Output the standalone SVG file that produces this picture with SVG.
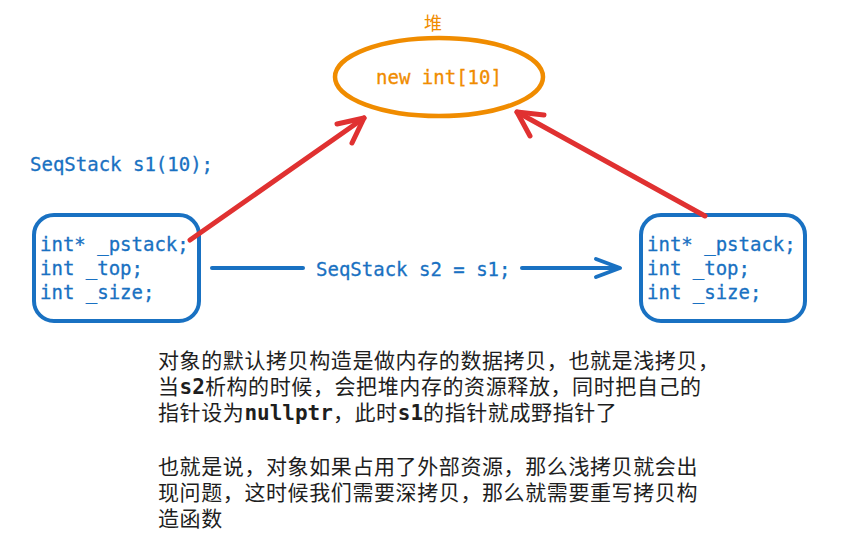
<svg xmlns="http://www.w3.org/2000/svg" width="853" height="536" viewBox="0 0 853 536">
<style>
.code{font-family:"DejaVu Sans Mono","Liberation Mono",monospace;font-size:19px;fill:#1971c2;stroke:#1971c2;stroke-width:0.3}
.box{fill:none;stroke:#1971c2;stroke-width:4}
.red{stroke:#e03131;stroke-width:5;fill:none;stroke-linecap:round;stroke-linejoin:round}
.blue{stroke:#1971c2;stroke-width:4;fill:none;stroke-linecap:round;stroke-linejoin:round}
.body{font-family:"Noto Sans CJK SC","Noto Sans",sans-serif;font-size:21px;fill:#1e1e1e;letter-spacing:0.6px}
.mono{font-family:"DejaVu Sans Mono","Liberation Mono",monospace;font-weight:bold;letter-spacing:0}
</style>
<rect width="853" height="536" fill="#ffffff"/>
<g id="heap">
<text x="433" y="30" text-anchor="middle" font-family="Noto Sans CJK SC,sans-serif" font-size="18" fill="#f08c00">堆</text>
<ellipse cx="439" cy="77" rx="104" ry="39" fill="none" stroke="#f08c00" stroke-width="4.5"/>
<text x="439" y="84" text-anchor="middle" class="code" style="fill:#f08c00;stroke:#f08c00">new int[10]</text>
</g>
<g id="s1label">
<text x="30" y="171" class="code">SeqStack s1(10);</text>
</g>
<g id="s1">
<rect x="34" y="215" width="165" height="106" rx="20" class="box"/>
<text x="40" y="251" class="code">int* _pstack;</text>
<text x="40" y="275" class="code">int _top;</text>
<text x="40" y="299" class="code">int _size;</text>
</g>
<g id="s2">
<rect x="641" y="215" width="164" height="106" rx="20" class="box"/>
<text x="647" y="251" class="code">int* _pstack;</text>
<text x="647" y="275" class="code">int _top;</text>
<text x="647" y="299" class="code">int _size;</text>
</g>
<g id="connectors">
<line x1="212" y1="268" x2="303" y2="268" class="blue"/>
<line x1="522" y1="268" x2="618" y2="268" class="blue"/>
<path d="M596 259 L620 268 L596 277" class="blue"/>
<text x="316" y="276" class="code">SeqStack s2 = s1;</text>
<line x1="190" y1="240" x2="364" y2="118" class="red"/>
<path d="M337 124 L364 118 L352 143" class="red"/>
<line x1="705" y1="216" x2="517" y2="112" class="red"/>
<path d="M544 115 L517 112 L530 136" class="red"/>
</g>
<g id="note">
<text x="158" y="368" class="body">对象的默认拷贝构造是做内存的数据拷贝，也就是浅拷贝，</text>
<text x="158" y="394" class="body">当<tspan class="mono">s2</tspan>析构的时候，会把堆内存的资源释放，同时把自己的</text>
<text x="158" y="420" class="body">指针设为<tspan class="mono">nullptr</tspan>，此时<tspan class="mono">s1</tspan>的指针就成野指针了</text>
<text x="158" y="474" class="body">也就是说，对象如果占用了外部资源，那么浅拷贝就会出</text>
<text x="158" y="500" class="body">现问题，这时候我们需要深拷贝，那么就需要重写拷贝构</text>
<text x="158" y="526" class="body">造函数</text>
</g>
</svg>
